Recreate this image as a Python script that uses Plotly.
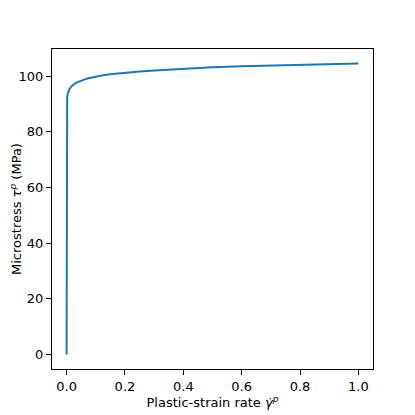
import plotly.graph_objects as go

# values
strain_rate = [0.0, 0.00001, 0.0002, 0.001, 0.002, 0.004, 0.007, 0.01, 0.015, 0.02, 0.03,
               0.04, 0.05, 0.06, 0.075, 0.1, 0.125, 0.15, 0.2, 0.25, 0.3, 0.4, 0.5,
               0.6, 0.7, 0.8, 0.9, 1.0]
microstress = [0.0, 83.0, 88.0, 91.0, 92.5, 93.7, 94.8, 95.4, 96.2, 96.7, 97.5,
               98.0, 98.5, 98.8, 99.3, 99.9, 100.35, 100.7, 101.3, 101.75, 102.1, 102.7, 103.2,
               103.6, 103.9, 104.15, 104.4, 104.6]

x_ticks = [0.0, 0.2, 0.4, 0.6, 0.8, 1.0]
x_tick_labels = ["0.0", "0.2", "0.4", "0.6", "0.8", "1.0"]
y_ticks = [0, 20, 40, 60, 80, 100]

fig = go.Figure()
fig.add_trace(go.Scatter(
    x=strain_rate, y=microstress,
    mode="lines",
    line=dict(color="#1f77b4", width=2),
    showlegend=False,
))

axis_style = dict(
    showline=True, mirror=True, linecolor="black", linewidth=1,
    ticks="outside", ticklen=5, tickcolor="black", tickwidth=1,
    showgrid=False, zeroline=False, automargin=False,
    tickfont=dict(family="DejaVu Sans", size=13, color="black"),
)

fig.update_xaxes(
    range=[-0.05, 1.05], tickvals=x_ticks, ticktext=x_tick_labels,
    title=dict(text="Plastic-strain rate <i>γ̇</i><sup><i>p</i></sup>", standoff=4,
               font=dict(family="DejaVu Sans", size=13, color="black")),
    **axis_style,
)
fig.update_yaxes(
    range=[-5.23, 109.8], tickvals=y_ticks,
    title=dict(text="Microstress <i>τ</i><sup><i>p</i></sup> (MPa)", standoff=6,
               font=dict(family="DejaVu Sans", size=13, color="black")),
    **axis_style,
)

# the page body adds an 8px offset, so the figure is 8px smaller
fig.update_layout(
    width=407, height=407,
    margin=dict(l=44, r=42, t=41, b=46),
    plot_bgcolor="white", paper_bgcolor="white",
)

fig.write_html("out.html")
